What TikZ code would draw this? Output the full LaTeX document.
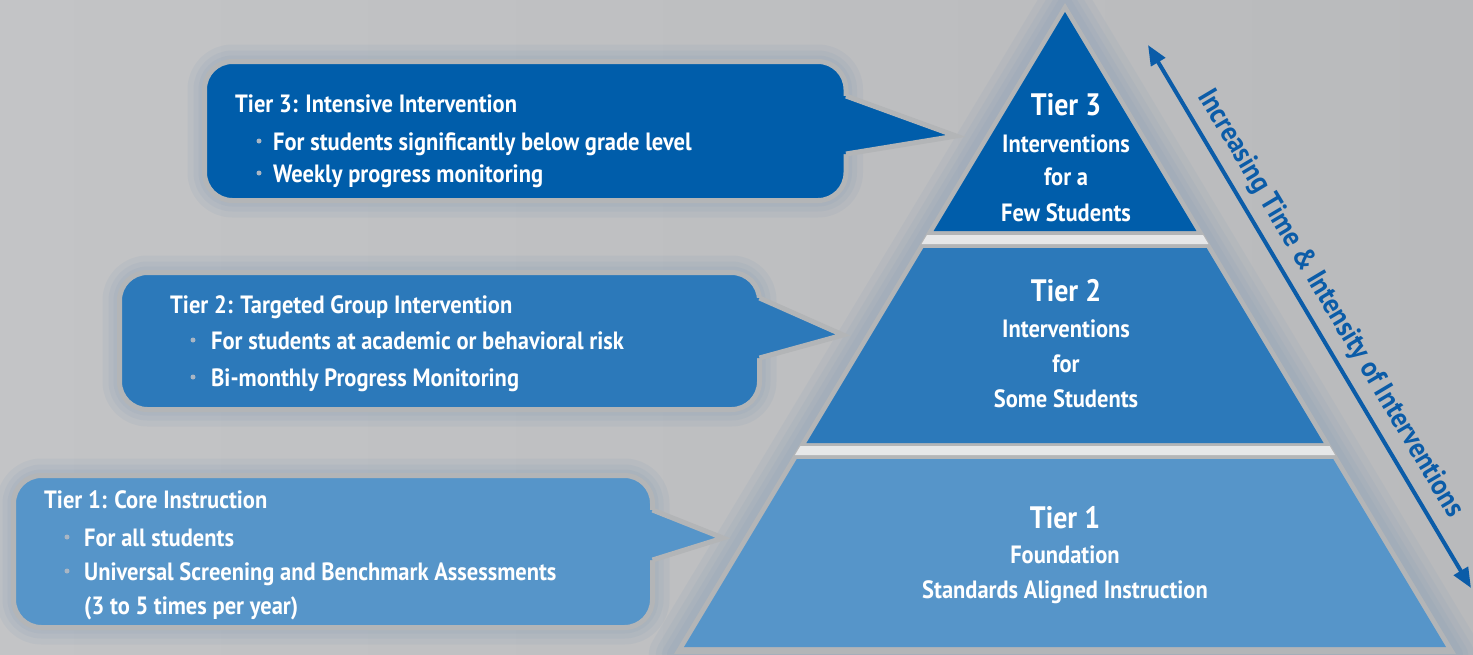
\documentclass[tikz,border=0pt]{standalone}
\usepackage{fontspec}
\setmainfont{PT Sans}[FakeStretch=0.9]
\usetikzlibrary{arrows.meta, positioning, calc}

\definecolor{tierthree}{HTML}{005DAA}
\definecolor{tiertwo}{HTML}{2C79BA}
\definecolor{tierone}{HTML}{5695C9}
\definecolor{rimgray}{HTML}{B3B5B7}
\definecolor{bandgray}{HTML}{E6E7E8}
\definecolor{glowblue}{HTML}{7E98B4}
\definecolor{dotgray}{HTML}{A9B6C4}
\definecolor{arrowblue}{HTML}{0B5CA8}
\definecolor{bgleft}{HTML}{C3C4C6}
\definecolor{bgright}{HTML}{B9BABC}

\begin{document}
\begin{tikzpicture}[x=1pt, y=-1pt,
  callout/.style = {draw=rimgray, line width=5pt, fill=#1, rounded corners=28pt, inner sep=0pt},
  halo/.style    = {draw=glowblue, line width=#1, opacity=0.11, line join=round},
  rim/.style     = {draw=rimgray, line width=5pt, miter limit=10},
  line/.style    = {font=\fontsize{25}{30}\selectfont\bfseries, text=white, anchor=base west, inner sep=0pt},
  head/.style    = {font=\fontsize{31}{36}\selectfont\bfseries, text=white, anchor=base, inner sep=0pt},
  body/.style    = {font=\fontsize{25}{30}\selectfont\bfseries, text=white, anchor=base, inner sep=0pt},
  arrow/.style   = {arrowblue, line width=4pt, {Triangle[length=20pt,width=16pt]}-{Triangle[length=20pt,width=16pt]}}
]

  % background
  \fill[left color=bgleft, right color=bgright] (0,0) rectangle (1473,654);
  \useasboundingbox (0,0) rectangle (1473,654);

  % halo round the pyramid
  \foreach \w in {50,36,24,14}
    \draw[halo=\w] (1065,3) -- (1456,654) -- (674,654) -- cycle;

  % pyramid rim and bands
  \fill[rimgray] (1065,3) -- (1456,654) -- (674,654) -- cycle;
  \fill[bandgray] (927,235) -- (1203,235) -- (1208.4,244) -- (921.6,244) -- cycle;
  \fill[bandgray] (800.4,446) -- (1329.6,446) -- (1335,455) -- (795,455) -- cycle;

  % tiers
  \fill[tierthree] (1065,12) -- (1196.4,231) -- (933.6,231) -- cycle;
  \fill[tiertwo] (923.4,248) -- (1206.6,248) -- (1323.6,443) -- (806.4,443) -- cycle;
  \fill[tierone] (796.8,459) -- (1333.2,459) -- (1446,647) -- (684,647) -- cycle;

  % tier texts
  \node[head] (t3head) at (1066,115) {Tier 3};
  \node[body] (t3a) at (1066,152) {Interventions};
  \node[body] (t3b) at (1066,185) {for a};
  \node[body] (t3c) at (1066,221) {Few Students};

  \node[head] (t2head) at (1066,301) {Tier 2};
  \node[body] (t2a) at (1066,337) {Interventions};
  \node[body] (t2b) at (1066,372) {for};
  \node[body] (t2c) at (1066,407) {Some Students};

  \node[head] (t1head) at (1065,528) {Tier 1};
  \node[body] (t1a) at (1065,563) {Foundation};
  \node[body] (t1b) at (1065,598) {Standards Aligned Instruction};

  % halo round the callouts
  \foreach \w in {34,22,12}{
    \draw[halo=\w, rounded corners=28pt] (204.5,61.5) rectangle (846,200.5);
    \draw[halo=\w, rounded corners=28pt] (119.5,272.5) rectangle (759.5,409.5);
    \draw[halo=\w, rounded corners=28pt] (13.5,475.5) rectangle (652.5,627.5);
  }

  % callout boxes
  \node[callout=tierthree, minimum width=641.5pt, minimum height=139pt] (box3) at (525.25,131) {};
  \node[callout=tiertwo, minimum width=640pt, minimum height=137pt] (box2) at (439.5,341) {};
  \node[callout=tierone, minimum width=639pt, minimum height=152pt] (box1) at (333,551.5) {};

  % pointers
  \coordinate (p3a) at (846,96);   \coordinate (p3tip) at (956,136);  \coordinate (p3b) at (846,154);
  \coordinate (p2a) at (759.5,298); \coordinate (p2tip) at (843,335); \coordinate (p2b) at (759.5,358);
  \coordinate (p1a) at (652.5,510); \coordinate (p1tip) at (723,538); \coordinate (p1b) at (652.5,560);

  \fill[tierthree] ($(p3a)+(-8,0)$) -- (p3a) -- (p3tip) -- (p3b) -- ($(p3b)+(-8,0)$) -- cycle;
  \draw[rim] (p3a) -- (p3tip) -- (p3b);
  \fill[tiertwo] ($(p2a)+(-8,0)$) -- (p2a) -- (p2tip) -- (p2b) -- ($(p2b)+(-8,0)$) -- cycle;
  \draw[rim] (p2a) -- (p2tip) -- (p2b);
  \fill[tierone] ($(p1a)+(-8,0)$) -- (p1a) -- (p1tip) -- (p1b) -- ($(p1b)+(-8,0)$) -- cycle;
  \draw[rim] (p1a) -- (p1tip) -- (p1b);

  % callout texts
  \node[line] (c3head) at (235,112) {Tier 3: Intensive Intervention};
  \fill[dotgray] (259,141) circle (2.5);
  \node[line] (c3a) at (273,150) {For students significantly below grade level};
  \fill[dotgray] (259,173) circle (2.5);
  \node[line] (c3b) at (273,182) {Weekly progress monitoring};

  \node[line] (c2head) at (170,313) {Tier 2: Targeted Group Intervention};
  \fill[dotgray] (193,340) circle (2.5);
  \node[line] (c2a) at (211,349) {For students at academic or behavioral risk};
  \fill[dotgray] (193,377) circle (2.5);
  \node[line] (c2b) at (211,386) {Bi-monthly Progress Monitoring};

  \node[line] (c1head) at (44,508) {Tier 1: Core Instruction};
  \fill[dotgray] (67,537) circle (2.5);
  \node[line] (c1a) at (84,546) {For all students};
  \fill[dotgray] (67,571) circle (2.5);
  \node[line] (c1b) at (84,580) {Universal Screening and Benchmark Assessments};
  \node[line] (c1c) at (84,614) {(3 to 5 times per year)};

  % trend arrow
  \coordinate (arrtop) at (1148,45);
  \coordinate (arrbot) at (1471,588);
  \draw[arrow] (arrtop) -- (arrbot);
  \node[rotate=-59.2, font=\fontsize{29}{34}\selectfont\bfseries, text=arrowblue, inner sep=0pt] (trend) at (1330,304) {Increasing Time \& Intensity of Interventions};

\end{tikzpicture}
\end{document}
